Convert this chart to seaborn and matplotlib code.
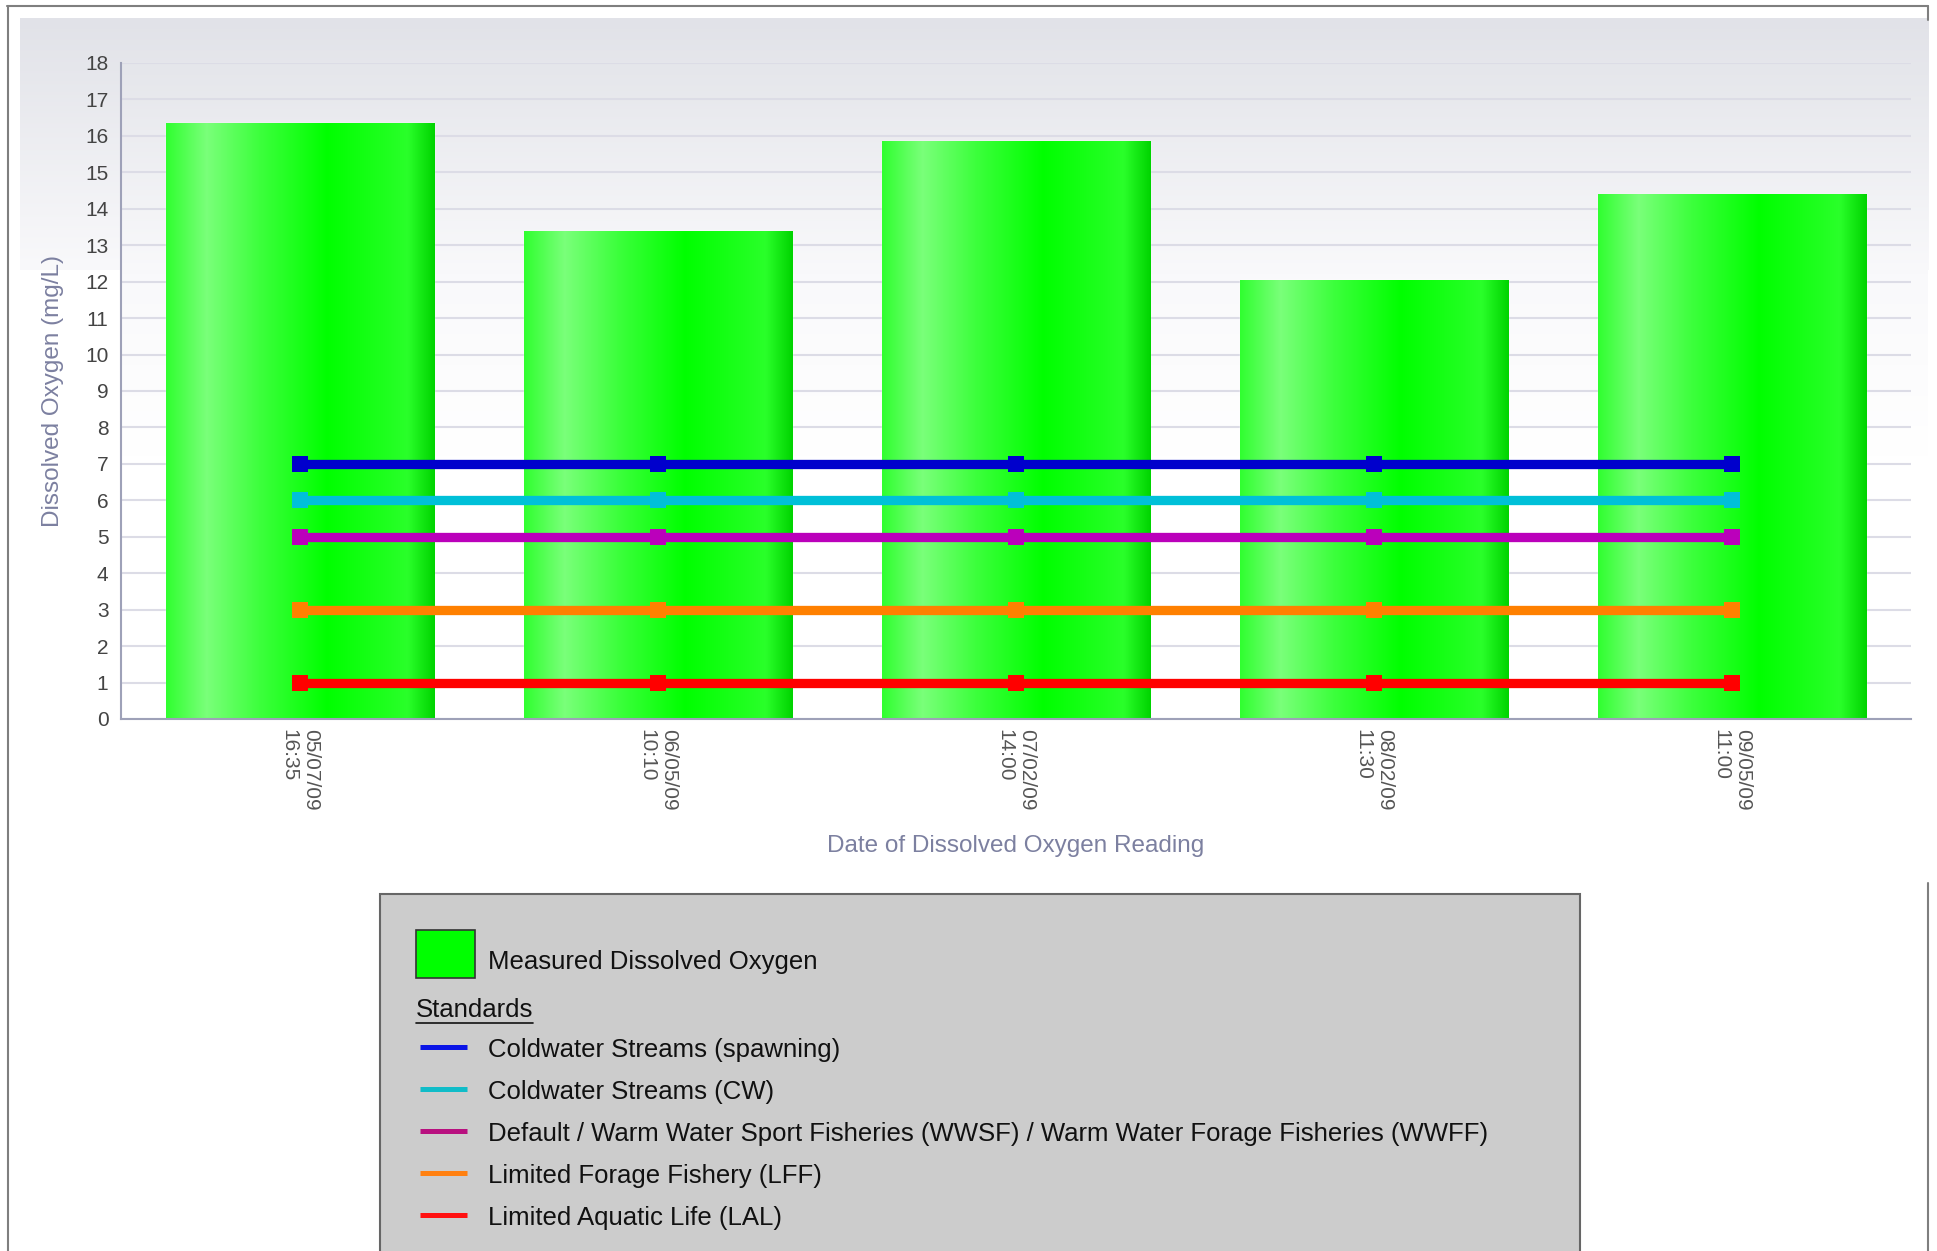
import numpy as np
import pandas as pd
import matplotlib.pyplot as plt
import seaborn as sns
from matplotlib.colors import LinearSegmentedColormap
from matplotlib.patches import Rectangle
from matplotlib.lines import Line2D

# data
dates = ['05/07/09\n16:35', '06/05/09\n10:10', '07/02/09\n14:00',
         '08/02/09\n11:30', '09/05/09\n11:00']
oxygen = [16.35, 13.4, 15.85, 12.05, 14.4]

standard_names = ['Coldwater Streams (spawning)',
                  'Coldwater Streams (CW)',
                  'Default / Warm Water Sport Fisheries (WWSF) / Warm Water Forage Fisheries (WWFF)',
                  'Limited Forage Fishery (LFF)',
                  'Limited Aquatic Life (LAL)']
standard_values = [7, 6, 5, 3, 1]
standard_colors = ['#0000cc', '#00c0d8', '#bb00bb', '#ff8000', '#ff0000']
legend_colors = ['#0a14e6', '#10bcc8', '#b8107f', '#ff8010', '#ff1010']

W, H = 1937, 1251
sns.set_style('white')
plt.rcParams['font.family'] = ['Liberation Sans', 'DejaVu Sans']

fig = plt.figure(figsize=(W / 100, H / 100), dpi=100)


def fx(x):
    return x / W


def fy(y):
    return 1 - y / H


# soft grey-to-white background behind the top of the chart
bg = fig.add_axes([fx(20), fy(270), fx(1928 - 20), (270 - 18) / H], zorder=0)
bg_cmap = LinearSegmentedColormap.from_list('bg', ['#e1e2e8', '#f9f9fb'])
bg.imshow(np.linspace(0, 1, 256).reshape(-1, 1), cmap=bg_cmap, aspect='auto')
bg.axis('off')

# plot area carries on fading down to white
pa = fig.add_axes([fx(121), fy(719), fx(1928 - 121), (719 - 63) / H], zorder=0.5)
pa_cmap = LinearSegmentedColormap.from_list('pa', [
    (0.0, '#e5e6eb'), (0.32, '#f9f9fb'), (0.6, '#ffffff'), (1.0, '#ffffff')])
pa.imshow(np.linspace(0, 1, 256).reshape(-1, 1), cmap=pa_cmap, aspect='auto')
pa.axis('off')

ax = fig.add_axes([fx(121), fy(719), fx(1911 - 121), (719 - 63) / H], zorder=1)
ax.set_facecolor('none')

df = pd.DataFrame({'date': dates, 'oxygen': oxygen})
sns.barplot(data=df, x='date', y='oxygen', color='#00ff00', saturation=1,
            width=0.75, ax=ax, zorder=2)

# shiny cylinder-like gradient on each bar
green_cmap = LinearSegmentedColormap.from_list('shine', [
    (0.0, '#30ff30'), (0.15, '#7aff7a'), (0.35, '#3cff3c'),
    (0.6, '#00ff00'), (0.9, '#2aff2a'), (1.0, '#00d400')])
row = np.linspace(0, 1, 256).reshape(1, -1)
for bar in list(ax.patches):
    x0, w, h = bar.get_x(), bar.get_width(), bar.get_height()
    im = ax.imshow(row, cmap=green_cmap, extent=[x0, x0 + w, 0, h],
                   aspect='auto', zorder=2.5)
    im.set_clip_path(bar)

# standards as flat lines with square markers
std = pd.DataFrame({
    'date': np.tile(dates, len(standard_names)),
    'value': np.repeat(standard_values, len(dates)),
    'standard': np.repeat(standard_names, len(dates)),
})
sns.lineplot(data=std, x='date', y='value', hue='standard',
             palette=dict(zip(standard_names, standard_colors)),
             marker='s', markersize=12, markeredgewidth=0, linewidth=6.7,
             sort=False, legend=False, ax=ax, zorder=3)

ax.set_xlim(-0.5, len(dates) - 0.5)
ax.set_ylim(0, 18)
ax.set_yticks(range(0, 19))
ax.yaxis.grid(True, color='#dcdce6', linewidth=1.5)
ax.xaxis.grid(False)
ax.set_axisbelow(True)
for side in ['top', 'right']:
    ax.spines[side].set_visible(False)
for side in ['left', 'bottom']:
    ax.spines[side].set_color('#9ea1b8')
    ax.spines[side].set_linewidth(1.5)

ax.tick_params(axis='y', length=0, pad=9, labelsize=15, labelcolor='#444444')
ax.tick_params(axis='x', length=0, pad=7, labelsize=15, labelcolor='#555555')
plt.setp(ax.get_xticklabels(), rotation=-90, ha='center', va='top',
         multialignment='left')

ax.set_xlabel('Date of Dissolved Oxygen Reading', fontsize=17.5,
              color='#7c80a0', va='center')
ax.set_ylabel('Dissolved Oxygen (mg/L)', fontsize=17.5, color='#7c80a0',
              va='center')
ax.xaxis.set_label_coords(0.5, (719 - 846) / (719 - 63))
ax.yaxis.set_label_coords((53 - 121) / (1911 - 121), 0.5)

# outer frame
frame_kw = dict(color='#7f7f7f', linewidth=1.5, transform=fig.transFigure)
fig.add_artist(Line2D([fx(7), fx(1928)], [fy(6), fy(6)], **frame_kw))
fig.add_artist(Line2D([fx(8), fx(8)], [fy(6), fy(1260)], **frame_kw))
fig.add_artist(Line2D([fx(1928), fx(1928)], [fy(6), fy(20)], **frame_kw))
fig.add_artist(Line2D([fx(1928), fx(1928)], [fy(883), fy(1260)], **frame_kw))

# legend box
fig.add_artist(Rectangle((fx(380), fy(1260)), fx(1580 - 380), (1260 - 894) / H,
                         facecolor='#cccccc', edgecolor='#666666',
                         linewidth=1.5, transform=fig.transFigure, zorder=4))
fig.add_artist(Rectangle((fx(416), fy(978)), fx(59), 48 / H,
                         facecolor='#00ff00', edgecolor='#333333',
                         linewidth=1.2, transform=fig.transFigure, zorder=5))
fig.text(fx(488), fy(962), 'Measured Dissolved Oxygen', fontsize=18.5,
         color='#111111', va='center', ha='left', zorder=5)
head = fig.text(fx(416), fy(1010), 'Standards', fontsize=18.5,
                color='#111111', va='center', ha='left', zorder=5)

for i, (name, col) in enumerate(zip(standard_names, legend_colors)):
    y = 1047 + 42 * i
    fig.add_artist(Line2D([fx(420), fx(467)], [fy(y), fy(y)], color=col,
                          linewidth=3.6, solid_capstyle='butt',
                          transform=fig.transFigure, zorder=5))
    fig.text(fx(488), fy(y + 3), name, fontsize=18.5, color='#111111',
             va='center', ha='left', zorder=5)

# underline the "Standards" heading
fig.canvas.draw()
bb = head.get_window_extent()
uy = bb.y0 - 1
fig.add_artist(Line2D([bb.x0 / W, bb.x1 / W], [uy / H, uy / H],
                      color='#111111', linewidth=1.2,
                      transform=fig.transFigure, zorder=5))

fig.savefig('out.png', dpi=100)
